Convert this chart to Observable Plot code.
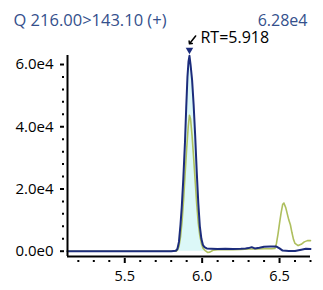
<!DOCTYPE html>
<html><head><meta charset="utf-8">
<script src="https://cdn.jsdelivr.net/npm/d3@7"></script>
<script src="https://cdn.jsdelivr.net/npm/@observablehq/plot@0.6"></script>
<style>html,body{margin:0;padding:0;background:#fff;} svg{display:block}</style>
</head><body><div id="chart"></div>
<script>
const title = "Q 216.00>143.10 (+)";
const maxLabel = "6.28e4";
const rtLabel = "RT=5.918";
const rtTime = 5.918;
const rtValue = 62800;

const blueTime = [5.13, 5.2, 5.3, 5.4, 5.5, 5.6, 5.7, 5.8, 5.83, 5.84, 5.85, 5.86, 5.868, 5.878, 5.889, 5.897, 5.905, 5.912, 5.918, 5.925, 5.935, 5.945, 5.955, 5.965, 5.975, 5.985, 5.995, 6.005, 6.015, 6.03, 6.06, 6.1, 6.15, 6.2, 6.25, 6.28, 6.3, 6.32, 6.34, 6.37, 6.4, 6.44, 6.48, 6.5, 6.52, 6.56, 6.6, 6.64, 6.67, 6.7];
const blueValue = [0, 0, 0, 0, 0, 0, 0, 0, 150, 700, 3000, 8500, 14000, 23000, 35000, 46000, 56000, 61000, 62800, 60000, 55000, 47000, 37000, 25500, 15500, 8000, 4000, 2000, 1300, 900, 800, 700, 800, 700, 800, 900, 1000, 1300, 900, 1100, 1400, 1500, 1500, 900, 200, 100, 100, 500, 800, 700];

const greenTime = [5.13, 5.2, 5.3, 5.4, 5.5, 5.6, 5.7, 5.8, 5.83, 5.84, 5.85, 5.86, 5.87, 5.88, 5.89, 5.9, 5.91, 5.918, 5.925, 5.935, 5.945, 5.955, 5.965, 5.975, 5.985, 5.995, 6.005, 6.02, 6.035, 6.05, 6.07, 6.1, 6.15, 6.2, 6.25, 6.3, 6.35, 6.4, 6.45, 6.47, 6.48, 6.49, 6.5, 6.51, 6.52, 6.528, 6.54, 6.55, 6.56, 6.57, 6.58, 6.59, 6.6, 6.62, 6.64, 6.66, 6.68, 6.7];
const greenValue = [0, 0, 0, 0, 0, 0, 0, 0, 0, 300, 1500, 4500, 9500, 16500, 25000, 33000, 40000, 43700, 42500, 37000, 30000, 22500, 15000, 9000, 5000, 2500, 1000, 200, -400, -300, 300, 500, 600, 500, 600, 700, 700, 800, 800, 900, 2500, 5500, 9000, 12300, 15000, 15500, 14000, 12000, 10000, 8500, 6000, 3800, 2500, 1800, 2200, 3000, 3400, 3400];

const fillRange = [5.83, 6.02];
const xDomain = [5.13, 6.70];
const yDomain = [-1700, 62900];
const xMajorTicks = [5.5, 6.0, 6.5];
const xMinorTicks = [5.2, 5.3, 5.4, 5.6, 5.7, 5.8, 5.9, 6.1, 6.2, 6.3, 6.4, 6.6, 6.7];
const yMajorTicks = [0, 20000, 40000, 60000];
const yMinorTicks = [4000, 8000, 12000, 16000, 24000, 28000, 32000, 36000, 44000, 48000, 52000, 56000];

const blue = blueTime.map((t, i) => ({t, v: blueValue[i]}));
const green = greenTime.map((t, i) => ({t, v: greenValue[i]}));
const fillData = blue.filter(d => d.t >= fillRange[0] && d.t <= fillRange[1]);
const peak = [{t: rtTime, v: rtValue, label: rtLabel}];
const yFmt = d => d3.format(".1e")(d).replace("+", "");

const navy = "#1c2c7c";
const lime = "#aebf5e";
const headColor = "#34508c";

const chart = Plot.plot({
  width: 323, height: 290,
  marginLeft: 67, marginRight: 13, marginTop: 55, marginBottom: 34,
  style: {fontFamily: "'Open Sans', sans-serif", background: "#fff"},
  x: {domain: xDomain},
  y: {domain: yDomain},
  marks: [
    Plot.areaY(fillData, {x: "t", y: "v", fill: "#dcf8f8"}),
    Plot.line(green, {x: "t", y: "v", stroke: lime, strokeWidth: 1.6}),
    Plot.line(blue, {x: "t", y: "v", stroke: navy, strokeWidth: 2}),
    Plot.ruleY([yDomain[0]], {stroke: "black", strokeWidth: 2}),
    Plot.ruleX([xDomain[0]], {stroke: "black", strokeWidth: 2}),
    Plot.axisY(yMajorTicks, {tickSize: 4, dx: -3, tickPadding: 7, tickFormat: yFmt, fontSize: 15, strokeWidth: 2, label: null}),
    Plot.axisY(yMinorTicks, {tickSize: 2, dx: -3, tickFormat: () => "", strokeWidth: 2, label: null}),
    Plot.axisX(xMajorTicks, {tickSize: 5, dy: 2, tickPadding: 7, tickFormat: d3.format(".1f"), fontSize: 14.5, strokeWidth: 2, label: null}),
    Plot.axisX(xMinorTicks, {tickSize: 2, dy: 4, tickFormat: () => "", strokeWidth: 2, label: null}),
    Plot.dot(peak, {x: "t", y: "v", symbol: "triangle", r: 2.8, rotate: 180, fill: navy, dy: -6}),
    Plot.vector(peak, {x: "t", y: "v", length: 10, rotate: 218, anchor: "end", dy: -12, stroke: "black", strokeWidth: 1.5}),
    Plot.text(peak, {x: "t", y: "v", text: "label", textAnchor: "start", lineAnchor: "bottom", dx: 11, dy: -13, fontSize: 16, fill: "black"}),
    Plot.text([title], {text: d => d, frameAnchor: "top-left", textAnchor: "start", lineAnchor: "bottom", dx: -54, dy: -30, fontSize: 16.5, fill: headColor}),
    Plot.text([maxLabel], {text: d => d, frameAnchor: "top-right", textAnchor: "end", lineAnchor: "bottom", dx: -3, dy: -30, fontSize: 16, fill: headColor})
  ]
});
document.getElementById("chart").appendChild(chart);
</script>
</body></html>
